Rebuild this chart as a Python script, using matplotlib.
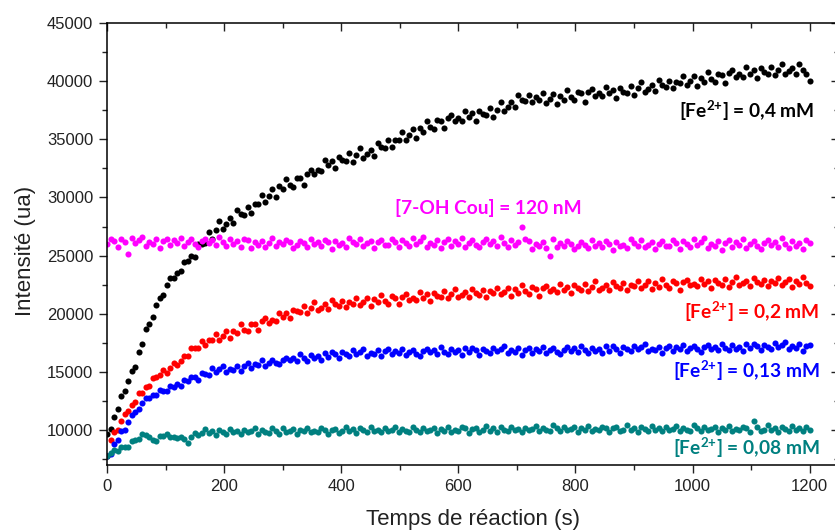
import numpy as np
import matplotlib
matplotlib.use("Agg")
import matplotlib.pyplot as plt
from matplotlib.ticker import MultipleLocator
from matplotlib.lines import TICKLEFT, TICKDOWN

# ---------------- data ----------------
time_s = np.arange(0, 1201, 6)  # sampling grid, 6 s

fe_04 = [
    9650, 10100, 11150, 11850, 12950, 13350, 14200, 15100, 15450, 16700,
    17400, 18700, 19150, 19700, 20750, 21350, 21600, 22500, 23100, 23100,
    23500, 23650, 24450, 24500, 25000, 24850, 26000, 26000, 26100, 27000,
    26450, 27200, 27950, 27300, 27700, 28200, 27800, 28900, 28550, 28500,
    29200, 28700, 29400, 29450, 30250, 29650, 30150, 30750, 30050, 30950,
    30700, 31600, 31050, 30900, 31700, 31650, 31050, 32000, 32400, 32000,
    32400, 32250, 33200, 32750, 33150, 32550, 33450, 33250, 33100, 33800,
    33050, 33650, 34250, 33400, 33700, 34100, 33600, 34650, 34300, 34250,
    34900, 34350, 34950, 34900, 35600, 34950, 35350, 35900, 35100, 35950,
    35650, 36600, 36050, 35850, 36700, 36550, 35950, 36800, 37100, 36550,
    36850, 36600, 37450, 36900, 37250, 36600, 37450, 37200, 37050, 37700,
    36950, 37550, 38200, 37450, 37800, 38250, 37800, 38800, 38400, 38300,
    38850, 38200, 38650, 38400, 38950, 38150, 38500, 38900, 38050, 38750,
    38400, 39250, 38600, 38350, 39100, 38950, 38250, 39100, 39300, 38750,
    38950, 38700, 39500, 38950, 39250, 38550, 39400, 39100, 38950, 39600,
    38850, 39400, 39950, 39100, 39350, 39700, 39150, 40100, 39650, 39500,
    40050, 39400, 39950, 39800, 40450, 39700, 40050, 40450, 39600, 40300,
    39950, 40800, 40150, 39900, 40650, 40500, 39850, 40700, 40950, 40400,
    40650, 40350, 41200, 40600, 40950, 40250, 41100, 40800, 40650, 41250,
    40500, 41000, 41500, 40650, 40850, 41150, 40600, 41500, 41000, 40600,
    40000,
]

cou_120 = [
    26000, 26470, 26230, 25750, 26390, 26150, 25100, 26550, 26070, 26310,
    26630, 25830, 26150, 25990, 26390, 25670, 26230, 26470, 25910, 26310,
    26070, 26550, 25830, 26150, 26390, 25990, 25750, 26230, 26470, 26070,
    26310, 25910, 26630, 26150, 25830, 26390, 25990, 26230, 25750, 26470,
    26370, 25650, 26130, 25890, 26290, 25730, 26050, 26530, 25810, 26210,
    25970, 26370, 26130, 25650, 25890, 26290, 26050, 25730, 26450, 25970,
    26210, 25810, 26370, 26130, 25570, 26290, 25890, 26050, 25730, 26530,
    26210, 25970, 26450, 25810, 26050, 26290, 25650, 26130, 26370, 25890,
    25940, 26420, 26180, 25700, 26340, 26100, 25860, 26500, 26020, 26260,
    26580, 25780, 26100, 25940, 26340, 25620, 26180, 26420, 25860, 26260,
    26020, 26500, 25780, 26100, 26340, 25940, 25700, 26180, 26420, 26020,
    26260, 25860, 26580, 26100, 25780, 26340, 25940, 26180, 27450, 26420,
    26270, 25550, 26030, 25790, 26190, 25630, 24950, 26430, 25710, 26110,
    25870, 26270, 26030, 25550, 25790, 26190, 25950, 25630, 26350, 25870,
    26110, 25710, 26270, 26030, 25470, 26190, 25790, 25950, 25630, 26430,
    26110, 25870, 26350, 25710, 25950, 26190, 25550, 26030, 26270, 25790,
    25840, 26320, 26080, 25600, 26240, 26000, 25760, 26400, 25920, 26160,
    26480, 25680, 26000, 25840, 26240, 25520, 26080, 26320, 25760, 26160,
    25920, 26400, 25680, 26000, 26240, 25840, 25600, 26080, 26320, 25920,
    26160, 25760, 26480, 26000, 25680, 26240, 25840, 26080, 25600, 26320,
    26050,
]

fe_02 = [
    7800, 9150, 9850, 10000, 10800, 11400, 11600, 12200, 12450, 13150,
    13150, 13700, 13750, 14450, 14600, 14700, 15200, 14900, 15350, 15800,
    15600, 15950, 16400, 16400, 17100, 17050, 17090, 17690, 17280, 17780,
    17720, 18300, 17760, 18100, 18520, 17900, 18560, 18340, 19080, 18620,
    18480, 19140, 19080, 18620, 19360, 19620, 19240, 19500, 19360, 20100,
    19720, 20060, 19600, 20340, 20200, 20140, 20670, 20080, 20530, 20980,
    20310, 20520, 20810, 20380, 21150, 20800, 20690, 21140, 20580, 21030,
    20870, 21400, 20760, 21050, 21370, 20700, 21260, 20990, 21630, 21120,
    20880, 21490, 21330, 20820, 21460, 21670, 21190, 21400, 21160, 21850,
    21370, 21660, 21100, 21790, 21550, 21440, 21920, 21330, 21730, 22130,
    21460, 21620, 21860, 21430, 22150, 21750, 21640, 22040, 21480, 21930,
    21770, 22250, 21660, 21900, 22220, 21550, 22110, 21790, 22480, 21920,
    21680, 22290, 22130, 21570, 22210, 22420, 21940, 22100, 21860, 22550,
    22070, 22310, 21750, 22440, 22200, 22040, 22570, 21930, 22330, 22780,
    22060, 22220, 22460, 22030, 22750, 22350, 22240, 22640, 22080, 22480,
    22370, 22850, 22210, 22450, 22820, 22100, 22660, 22340, 22980, 22470,
    22230, 22790, 22630, 22070, 22760, 22920, 22440, 22600, 22360, 23000,
    22520, 22810, 22250, 22890, 22650, 22490, 22970, 22330, 22730, 23130,
    22460, 22620, 22860, 22380, 23100, 22700, 22540, 22940, 22380, 22780,
    22620, 23100, 22460, 22700, 23020, 22300, 22860, 22540, 23180, 22620,
    22380,
]

fe_013 = [
    7760, 7980, 8780, 9160, 9900, 10040, 10700, 11320, 11520, 11800,
    12340, 12760, 12760, 13030, 12980, 13490, 13400, 13340, 13770, 13720,
    13940, 13800, 14310, 14220, 14560, 14560, 14300, 14880, 14800, 14720,
    15300, 14990, 15220, 15510, 14960, 15250, 15180, 15530, 15040, 15510,
    15740, 15370, 15720, 15590, 16000, 15510, 15800, 16030, 15780, 15650,
    16060, 16240, 15990, 16220, 15920, 16510, 16200, 15960, 16430, 16180,
    16360, 16050, 16640, 16280, 16690, 16510, 16200, 16680, 16550, 16370,
    16900, 16540, 16720, 17010, 16410, 16650, 16580, 16880, 16340, 16760,
    16940, 16520, 16820, 16640, 17000, 16460, 16700, 16880, 16580, 16400,
    16760, 16990, 16690, 16870, 16570, 17110, 16750, 16510, 16980, 16680,
    16860, 16500, 17040, 16680, 17040, 16860, 16500, 16980, 16800, 16620,
    17100, 16790, 16970, 17210, 16610, 16850, 16730, 17030, 16490, 16910,
    17090, 16670, 16970, 16790, 17150, 16610, 16850, 17030, 16730, 16550,
    16910, 17140, 16840, 17020, 16720, 17260, 16900, 16660, 17080, 16780,
    17010, 16650, 17190, 16830, 17190, 17010, 16650, 17130, 16950, 16770,
    17250, 16940, 17120, 17360, 16760, 17000, 16880, 17180, 16640, 17060,
    17240, 16820, 17170, 16990, 17350, 16810, 17050, 17230, 16930, 16750,
    17110, 17290, 16990, 17170, 16870, 17410, 17100, 16860, 17280, 16980,
    17160, 16800, 17390, 17030, 17390, 17210, 16850, 17330, 17150, 16970,
    17500, 17140, 17320, 17560, 16960, 17200, 17080, 17380, 16840, 17260,
    17300,
]

fe_008 = [
    7740, 8000, 8300, 8180, 8510, 8520, 8560, 9030, 9130, 9230,
    9670, 9540, 9400, 9190, 9050, 9460, 9520, 9700, 9410, 9450,
    9340, 9420, 9210, 8920, 9380, 9750, 9550, 9750, 10100, 9750,
    9950, 9600, 10050, 9850, 9700, 10100, 9800, 9900, 9700, 10050,
    9800, 9900, 10150, 9700, 10000, 9850, 9750, 10200, 9950, 9700,
    10150, 9850, 9950, 10100, 9700, 10050, 9900, 10200, 9800, 9950,
    9850, 10150, 10050, 9650, 10000, 10100, 9750, 9900, 10300, 9900,
    10100, 9750, 10200, 10000, 9850, 10250, 9950, 10050, 9800, 10150,
    9900, 10000, 10250, 9800, 10100, 9950, 9850, 10300, 10050, 9800,
    10200, 9900, 10000, 10150, 9750, 10100, 9950, 10250, 9850, 10000,
    9950, 10250, 10150, 9750, 10100, 10200, 9850, 10000, 10350, 9950,
    10150, 9800, 10250, 10050, 9900, 10300, 10000, 10100, 9850, 10200,
    10000, 10100, 10350, 9900, 10200, 10050, 9950, 10400, 10150, 9900,
    10300, 10000, 10100, 10250, 9850, 10200, 10050, 10350, 9950, 10100,
    10000, 10300, 10200, 9800, 10150, 10250, 9900, 10050, 10400, 10000,
    10200, 9850, 10300, 10100, 9950, 10350, 10050, 10150, 9900, 10250,
    10000, 10100, 10350, 9900, 10200, 10050, 9950, 10400, 10150, 9900,
    10300, 10000, 10100, 10250, 9850, 10200, 10050, 10350, 9950, 10100,
    10000, 10300, 10200, 9800, 10800, 10250, 9900, 10050, 10400, 10000,
    10200, 9850, 10300, 10100, 9950, 10350, 10050, 10150, 9900, 10250,
    10000,
]

series = [
    (fe_04, "#000000"),
    (cou_120, "#FF00FF"),
    (fe_02, "#FF0000"),
    (fe_013, "#0000FF"),
    (fe_008, "#008080"),
]

SUP = r"$^{\mathbf{2}{+}}$"
labels = [
    ("[Fe" + SUP + "] = 0,4 mM", 1208, 37400, "#000000", "right"),
    ("[7-OH Cou] = 120 nM", 651, 29100, "#FF00FF", "center"),
    ("[Fe" + SUP + "] = 0,2 mM", 1217, 20150, "#FF0000", "right"),
    ("[Fe" + SUP + "] = 0,13 mM", 1217, 15070, "#0000FF", "right"),
    ("[Fe" + SUP + "] = 0,08 mM", 1217, 8450, "#008080", "right"),
]

# ---------------- figure ----------------
plt.rcParams["font.family"] = ["Liberation Sans", "DejaVu Sans"]
plt.rcParams["mathtext.fontset"] = "custom"
plt.rcParams["mathtext.rm"] = "Lato:bold"
plt.rcParams["mathtext.bf"] = "Lato:bold"
plt.rcParams["mathtext.it"] = "Lato:bold"

W, H = 835, 530
fig = plt.figure(figsize=(W / 100, H / 100), dpi=100)
ax = fig.add_axes([107 / W, 1 - 465 / H, (839 - 107) / W, (465 - 23) / H])

for vals, col in series:
    ax.plot(time_s, vals, linestyle="none", marker="o", ms=4.4,
            mew=0, color=col)

ax.set_xlim(0, 1250)
ax.set_ylim(7000, 45000)

ax.xaxis.set_major_locator(MultipleLocator(200))
ax.xaxis.set_minor_locator(MultipleLocator(100))
ax.yaxis.set_major_locator(MultipleLocator(5000))
ax.yaxis.set_minor_locator(MultipleLocator(2500))

ax.tick_params(which="both", direction="out", width=1.0, colors="#222222",
               labelsize=12, pad=4, top=True, right=True)
ax.tick_params(which="major", length=6)
ax.tick_params(which="minor", length=3.6)

for sp in ax.spines.values():
    sp.set_linewidth(1.1)
ax.spines["right"].set_visible(False)

# top and right ticks point inward (bottom / left point outward)
for t in ax.yaxis.get_major_ticks() + ax.yaxis.get_minor_ticks():
    t.tick2line.set_marker(TICKLEFT)
for t in ax.xaxis.get_major_ticks() + ax.xaxis.get_minor_ticks():
    t.tick2line.set_marker(TICKDOWN)

ax.set_xlabel("Temps de réaction (s)", fontsize=16, labelpad=11, color="#222222")
ax.set_ylabel("Intensité (ua)", fontsize=16, labelpad=8, color="#222222", y=0.485)

for txt, x, y, col, ha in labels:
    ax.text(x, y, txt, color=col, ha=ha, va="center", fontsize=13.8,
            family=["Lato", "DejaVu Sans"], fontweight="bold")

fig.savefig("out.png", dpi=100)
